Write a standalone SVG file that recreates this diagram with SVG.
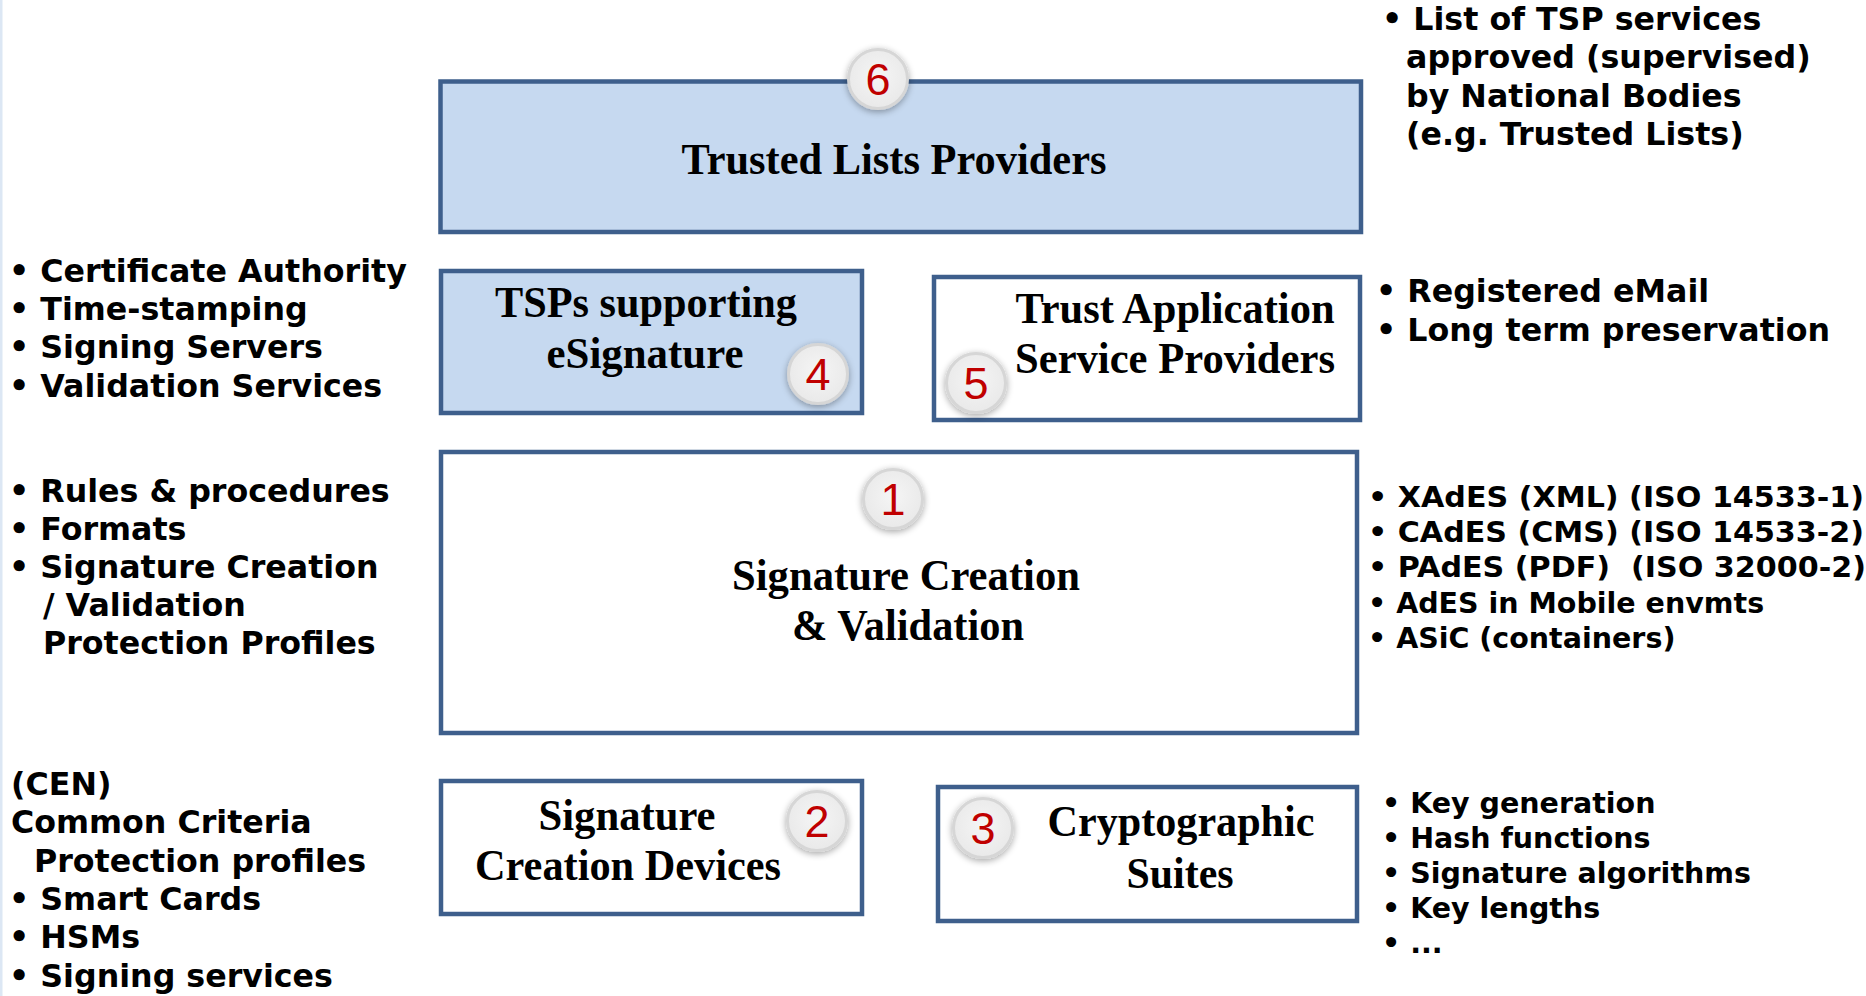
<svg xmlns="http://www.w3.org/2000/svg" width="1866" height="996" viewBox="0 0 1866 996">
  <defs>
    <radialGradient id="ballFill" cx="50%" cy="45%" r="55%">
      <stop offset="0%" stop-color="#F5F5F5"/>
      <stop offset="100%" stop-color="#E9E9E9"/>
    </radialGradient>
    <filter id="glow" x="-40%" y="-40%" width="180%" height="180%">
      <feGaussianBlur in="SourceAlpha" stdDeviation="3.5"/>
      <feOffset dx="0" dy="1.5" result="b"/>
      <feComponentTransfer><feFuncA type="linear" slope="0.35"/></feComponentTransfer>
      <feMerge><feMergeNode/><feMergeNode in="SourceGraphic"/></feMerge>
    </filter>
  </defs>
  <style>
    .box { stroke: #3E5F8C; stroke-width: 4.5; }
    .blue { fill: #C6D9F0; }
    .white { fill: #FFFFFF; }
    .title { font-family: "Liberation Serif", "Times New Roman", serif; font-weight: bold; font-size: 45px; fill: #000; text-anchor: middle; }
    .list { font-family: "DejaVu Sans", Verdana, sans-serif; font-weight: bold; font-size: 31.7px; fill: #000; }
    .small { font-size: 28.5px; }
    .ball { fill: url(#ballFill); stroke: #D6D6D6; stroke-width: 3; filter: url(#glow); }
    .num { font-family: "Liberation Sans", Arial, sans-serif; font-size: 45px; fill: #C00000; text-anchor: middle; }
  </style>
  <rect width="1866" height="996" fill="#FFFFFF"/>
  <rect x="0" y="0" width="2.5" height="996" fill="#DCE7F4"/>

  <g id="connectors"></g>

  <g id="node6">
    <rect class="box blue" x="440.5" y="81.5" width="920.5" height="150.5"/>
    <text class="title" x="894" y="174" font-size="47" textLength="425" lengthAdjust="spacingAndGlyphs">Trusted Lists Providers</text>
    <circle class="ball" cx="878" cy="79" r="29.5"/>
    <text class="num" x="878" y="95">6</text>
  </g>

  <g id="node4">
    <rect class="box blue" x="441" y="271" width="421" height="142"/>
    <text class="title" x="646" y="317" textLength="302" lengthAdjust="spacingAndGlyphs">TSPs supporting</text>
    <text class="title" x="645" y="368" textLength="197" lengthAdjust="spacingAndGlyphs">eSignature</text>
    <circle class="ball" cx="818" cy="374" r="29.5"/>
    <text class="num" x="818" y="390">4</text>
  </g>

  <g id="node5">
    <rect class="box white" x="934" y="277" width="426" height="143"/>
    <text class="title" x="1175" y="323" textLength="319" lengthAdjust="spacingAndGlyphs">Trust Application</text>
    <text class="title" x="1175" y="373" textLength="320" lengthAdjust="spacingAndGlyphs">Service Providers</text>
    <circle class="ball" cx="976" cy="383" r="29.5"/>
    <text class="num" x="976" y="399">5</text>
  </g>

  <g id="node1">
    <rect class="box white" x="441" y="452" width="916" height="281"/>
    <circle class="ball" cx="893" cy="499" r="29.5"/>
    <text class="num" x="893" y="515">1</text>
    <text class="title" x="906" y="590" textLength="348" lengthAdjust="spacingAndGlyphs">Signature Creation</text>
    <text class="title" x="908" y="640" textLength="232" lengthAdjust="spacingAndGlyphs">&amp; Validation</text>
  </g>

  <g id="node2">
    <rect class="box white" x="441" y="781" width="421" height="133"/>
    <text class="title" x="627" y="830" textLength="177" lengthAdjust="spacingAndGlyphs">Signature</text>
    <text class="title" x="628" y="880" textLength="306" lengthAdjust="spacingAndGlyphs">Creation Devices</text>
    <circle class="ball" cx="817" cy="821" r="29.5"/>
    <text class="num" x="817" y="837">2</text>
  </g>

  <g id="node3">
    <rect class="box white" x="938" y="787" width="419" height="134"/>
    <circle class="ball" cx="983" cy="828" r="29.5"/>
    <text class="num" x="983" y="844">3</text>
    <text class="title" x="1181" y="836" textLength="267" lengthAdjust="spacingAndGlyphs">Cryptographic</text>
    <text class="title" x="1180" y="888" textLength="107" lengthAdjust="spacingAndGlyphs">Suites</text>
  </g>

  <g id="list-trusted-lists">
    <text class="list" x="1382" y="30">• List of TSP services</text>
    <text class="list" x="1406" y="68">approved (supervised)</text>
    <text class="list" x="1406" y="107">by National Bodies</text>
    <text class="list" x="1406" y="145">(e.g. Trusted Lists)</text>
  </g>

  <g id="list-tsp">
    <text class="list" x="9" y="282">• Certificate Authority</text>
    <text class="list" x="9" y="320">• Time-stamping</text>
    <text class="list" x="9" y="358">• Signing Servers</text>
    <text class="list" x="9" y="397">• Validation Services</text>
  </g>

  <g id="list-trust-app">
    <text class="list" x="1376" y="302">• Registered eMail</text>
    <text class="list" x="1376" y="341">• Long term preservation</text>
  </g>

  <g id="list-rules">
    <text class="list" x="9" y="502">• Rules &amp; procedures</text>
    <text class="list" x="9" y="540">• Formats</text>
    <text class="list" x="9" y="578">• Signature Creation</text>
    <text class="list" x="43" y="616">/ Validation</text>
    <text class="list" x="43" y="654">Protection Profiles</text>
  </g>

  <g id="list-formats">
    <text class="list small" x="1368" y="507" textLength="496" lengthAdjust="spacingAndGlyphs">• XAdES (XML) (ISO 14533-1)</text>
    <text class="list small" x="1368" y="542" textLength="496" lengthAdjust="spacingAndGlyphs">• CAdES (CMS) (ISO 14533-2)</text>
    <text class="list small" x="1368" y="577" textLength="498" lengthAdjust="spacingAndGlyphs" xml:space="preserve">• PAdES (PDF)  (ISO 32000-2)</text>
    <text class="list small" x="1368" y="613">• AdES in Mobile envmts</text>
    <text class="list small" x="1368" y="648">• ASiC (containers)</text>
  </g>

  <g id="list-devices">
    <text class="list" x="11" y="795">(CEN)</text>
    <text class="list" x="11" y="833">Common Criteria</text>
    <text class="list" x="34" y="872">Protection profiles</text>
    <text class="list" x="9" y="910">• Smart Cards</text>
    <text class="list" x="9" y="948">• HSMs</text>
    <text class="list" x="9" y="987">• Signing services</text>
  </g>

  <g id="list-crypto">
    <text class="list small" x="1382" y="813">• Key generation</text>
    <text class="list small" x="1382" y="848">• Hash functions</text>
    <text class="list small" x="1382" y="883">• Signature algorithms</text>
    <text class="list small" x="1382" y="918">• Key lengths</text>
    <text class="list small" x="1382" y="953">• ...</text>
  </g>
</svg>
